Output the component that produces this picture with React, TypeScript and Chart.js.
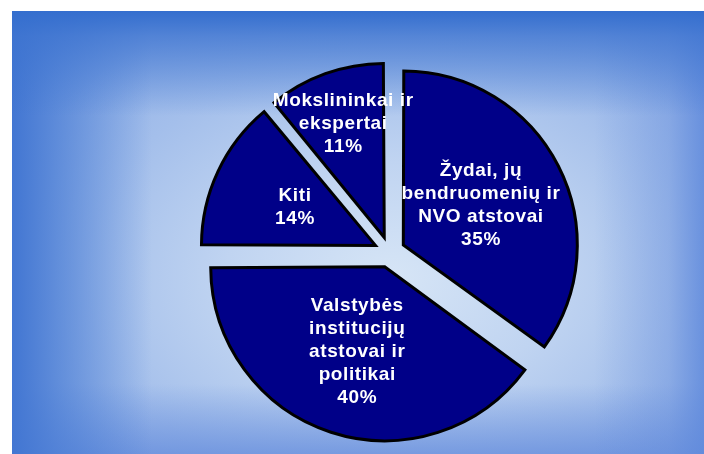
import React, { useEffect, useRef } from "react";
import { Chart, registerables } from "chart.js";

Chart.register(...registerables);

const CATEGORIES: string[][] = [
  ["Žydai, jų", "bendruomenių ir", "NVO atstovai"],
  ["Valstybės", "institucijų", "atstovai ir", "politikai"],
  ["Kiti"],
  ["Mokslininkai ir", "ekspertai"],
];
const VALUES: number[] = [35, 40, 14, 11];
const LABEL_RADIUS: number[] = [0.59, 0.6, 0.6, 0.785];
const SLICE_COLOR = "#000088";

export default function App() {
  const ref = useRef<HTMLCanvasElement>(null);

  useEffect(() => {
    if (!ref.current) return;
    const OFFSET = 62;
    const RADIUS = 174;

    const labelPlugin = {
      id: "sliceLabels",
      afterDatasetsUpdate(chart: any) {
        const meta = chart.getDatasetMeta(0);
        meta.data.forEach((el: any) => {
          const fix = 1 - Math.sin(Math.min(Math.PI, el.circumference));
          el.outerRadius = RADIUS - (OFFSET / 4) * fix;
        });
      },
      afterDatasetsDraw(chart: any) {
        const ctx = chart.ctx as CanvasRenderingContext2D;
        const meta = chart.getDatasetMeta(0);
        ctx.save();
        ctx.fillStyle = "#ffffff";
        ctx.font = 'bold 19px "Liberation Sans", Arial, sans-serif';
        (ctx as any).letterSpacing = "0.6px";
        ctx.textAlign = "center";
        ctx.textBaseline = "middle";
        meta.data.forEach((el: any, i: number) => {
          const mid = (el.startAngle + el.endAngle) / 2;
          const d = RADIUS * LABEL_RADIUS[i];
          const cx = el.x + Math.cos(mid) * d;
          const cy = el.y + Math.sin(mid) * d;
          const lines = [...CATEGORIES[i], VALUES[i] + "%"];
          const lh = 23;
          lines.forEach((t, j) =>
            ctx.fillText(t, cx, cy + (j - (lines.length - 1) / 2) * lh)
          );
        });
        ctx.restore();
      },
    };

    const chart = new Chart(ref.current, {
      type: "pie",
      data: {
        labels: CATEGORIES.map((c) => c.join(" ")),
        datasets: [
          {
            data: VALUES,
            backgroundColor: SLICE_COLOR,
            borderColor: "#000000",
            borderWidth: 3,
            borderJoinStyle: "miter",
            offset: OFFSET,
            radius: RADIUS,
          } as any,
        ],
      },
      options: {
        responsive: false,
        animation: false,
        devicePixelRatio: 1,
        layout: { padding: { left: 63, top: 39, right: 0, bottom: 0 } },
        plugins: {
          legend: { display: false },
          tooltip: { enabled: false },
        },
        events: [],
      } as any,
      plugins: [labelPlugin],
    });
    return () => chart.destroy();
  }, []);

  return (
    <div
      style={{
        position: "absolute",
        left: 12,
        top: 11,
        width: 692,
        height: 443,
        background: [
          "linear-gradient(to bottom, rgba(52,110,206,1) 0px, rgba(60,115,208,0.75) 25px, rgba(70,120,210,0) 105px)",
          "linear-gradient(to right, rgba(66,118,210,1) 0px, rgba(70,122,212,0.7) 45px, rgba(80,130,215,0) 140px)",
          "linear-gradient(to left, rgba(96,138,220,0.85) 0px, rgba(100,140,220,0.4) 35px, rgba(110,150,225,0) 110px)",
          "linear-gradient(to top, rgba(100,140,220,0.75) 0px, rgba(110,150,225,0) 70px)",
          "radial-gradient(ellipse 60% 65% at 55% 60%, #d6e5f6 0%, #c0d4f1 40%, #a4bfeb 75%, #94b3e7 100%)",
        ].join(", "),
      }}
    >
      <canvas ref={ref} width={692} height={443} style={{ display: "block" }} />
    </div>
  );
}
